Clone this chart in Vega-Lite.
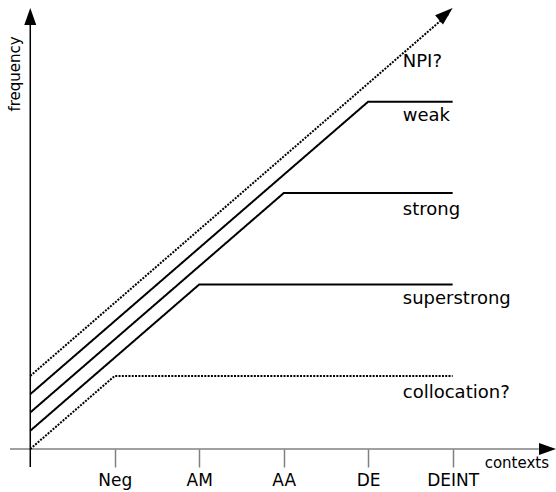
{
  "$schema": "https://vega.github.io/schema/vega-lite/v6.json",
  "width": 544,
  "height": 446,
  "autosize": {"type": "none"},
  "padding": {"left": 10, "top": 3, "right": 2, "bottom": 43},
  "background": "white",
  "config": {"view": {"stroke": null}, "font": "DejaVu Sans"},
  "datasets": {
    "lines": [
      {"series": "NPI?", "x": 0, "y": 1.0},
      {"series": "NPI?", "x": 4.95, "y": 5.95},
      {"series": "weak", "x": 0, "y": 0.75},
      {"series": "weak", "x": 4, "y": 4.75},
      {"series": "weak", "x": 5, "y": 4.75},
      {"series": "strong", "x": 0, "y": 0.5},
      {"series": "strong", "x": 3, "y": 3.5},
      {"series": "strong", "x": 5, "y": 3.5},
      {"series": "superstrong", "x": 0, "y": 0.25},
      {"series": "superstrong", "x": 2, "y": 2.25},
      {"series": "superstrong", "x": 5, "y": 2.25},
      {"series": "collocation?", "x": 0, "y": 0},
      {"series": "collocation?", "x": 1, "y": 1},
      {"series": "collocation?", "x": 5, "y": 1}
    ],
    "axes": [
      {"axis": "x", "x": -0.24, "x2": 6.02, "y": 0, "y2": 0},
      {"axis": "y", "x": 0, "x2": 0, "y": -0.246, "y2": 5.81}
    ],
    "arrows": [
      {"axis": "x", "x": 6.224, "y": 0},
      {"axis": "y", "x": 0, "y": 6.03},
      {"axis": "NPI?", "x": 5.0, "y": 6.03}
    ],
    "labels": [
      {"label": "NPI?", "x": 4.41, "y": 5.29},
      {"label": "weak", "x": 4.41, "y": 4.55},
      {"label": "strong", "x": 4.41, "y": 3.27},
      {"label": "superstrong", "x": 4.41, "y": 2.05},
      {"label": "collocation?", "x": 4.41, "y": 0.77}
    ],
    "titles": [
      {"label": "contexts", "x": 5.76, "y": -0.19, "angle": 0},
      {"label": "frequency", "x": -0.18, "y": 5.13, "angle": 270}
    ]
  },
  "layer": [
    {
      "data": {"name": "axes"},
      "transform": [{"filter": "datum.axis === 'x'"}],
      "mark": {"type": "rule", "color": "#808080", "strokeWidth": 1.5},
      "encoding": {
        "x": {"field": "x", "type": "quantitative", "scale": {"domain": [-0.24, 6.2], "nice": false, "zero": false},
          "axis": {"values": [1, 2, 3, 4, 5], "labelExpr": "['', 'Neg', 'AM', 'AA', 'DE', 'DEINT'][datum.value]",
            "domain": false, "grid": false, "title": null, "tickColor": "#808080", "tickWidth": 1.5, "tickSize": 18,
            "labelFont": "DejaVu Sans", "labelFontSize": 17, "labelColor": "black", "labelPadding": 5, "labelFlush": false}},
        "x2": {"field": "x2"},
        "y": {"field": "y", "type": "quantitative", "scale": {"domain": [0, 6.1], "nice": false, "zero": false}, "axis": null},
        "y2": {"field": "y2"}
      }
    },
    {
      "data": {"name": "axes"},
      "transform": [{"filter": "datum.axis === 'y'"}],
      "mark": {"type": "rule", "color": "black", "strokeWidth": 1.5},
      "encoding": {
        "x": {"field": "x", "type": "quantitative"},
        "x2": {"field": "x2"},
        "y": {"field": "y", "type": "quantitative"},
        "y2": {"field": "y2"}
      }
    },
    {
      "data": {"name": "lines"},
      "mark": {"type": "line", "color": "black", "strokeWidth": 2, "strokeCap": "butt"},
      "encoding": {
        "x": {"field": "x", "type": "quantitative"},
        "y": {"field": "y", "type": "quantitative"},
        "detail": {"field": "series"},
        "strokeDash": {"field": "series", "type": "nominal", "legend": null,
          "scale": {"domain": ["NPI?", "weak", "strong", "superstrong", "collocation?"],
            "range": [[2, 1.3], [1, 0], [1, 0], [1, 0], [2, 1.3]]}}
      }
    },
    {
      "data": {"name": "arrows"},
      "transform": [{"filter": "datum.axis === 'x'"}],
      "mark": {"type": "point", "shape": "M0,0 L-1.7,-0.6 L-1.7,0.6 Z", "size": 400, "filled": true, "color": "black", "opacity": 1, "strokeWidth": 0},
      "encoding": {"x": {"field": "x", "type": "quantitative"}, "y": {"field": "y", "type": "quantitative"}}
    },
    {
      "data": {"name": "arrows"},
      "transform": [{"filter": "datum.axis === 'y'"}],
      "mark": {"type": "point", "shape": "M0,0 L-1.7,-0.6 L-1.7,0.6 Z", "size": 400, "angle": 270, "filled": true, "color": "black", "opacity": 1, "strokeWidth": 0},
      "encoding": {"x": {"field": "x", "type": "quantitative"}, "y": {"field": "y", "type": "quantitative"}}
    },
    {
      "data": {"name": "arrows"},
      "transform": [{"filter": "datum.axis === 'NPI?'"}],
      "mark": {"type": "point", "shape": "M0,0 L-1.8,-0.6 L-1.8,0.6 Z", "size": 400, "angle": 319.1, "filled": true, "color": "black", "opacity": 1, "strokeWidth": 0},
      "encoding": {"x": {"field": "x", "type": "quantitative"}, "y": {"field": "y", "type": "quantitative"}}
    },
    {
      "data": {"name": "labels"},
      "mark": {"type": "text", "align": "left", "baseline": "middle", "font": "DejaVu Sans", "fontSize": 18, "color": "black"},
      "encoding": {
        "x": {"field": "x", "type": "quantitative"},
        "y": {"field": "y", "type": "quantitative"},
        "text": {"field": "label"}
      }
    },
    {
      "data": {"name": "titles"},
      "mark": {"type": "text", "align": "center", "baseline": "middle", "font": "DejaVu Sans", "fontSize": 15, "color": "black"},
      "encoding": {
        "x": {"field": "x", "type": "quantitative"},
        "y": {"field": "y", "type": "quantitative"},
        "text": {"field": "label"},
        "angle": {"field": "angle", "type": "quantitative", "scale": null}
      }
    }
  ]
}
